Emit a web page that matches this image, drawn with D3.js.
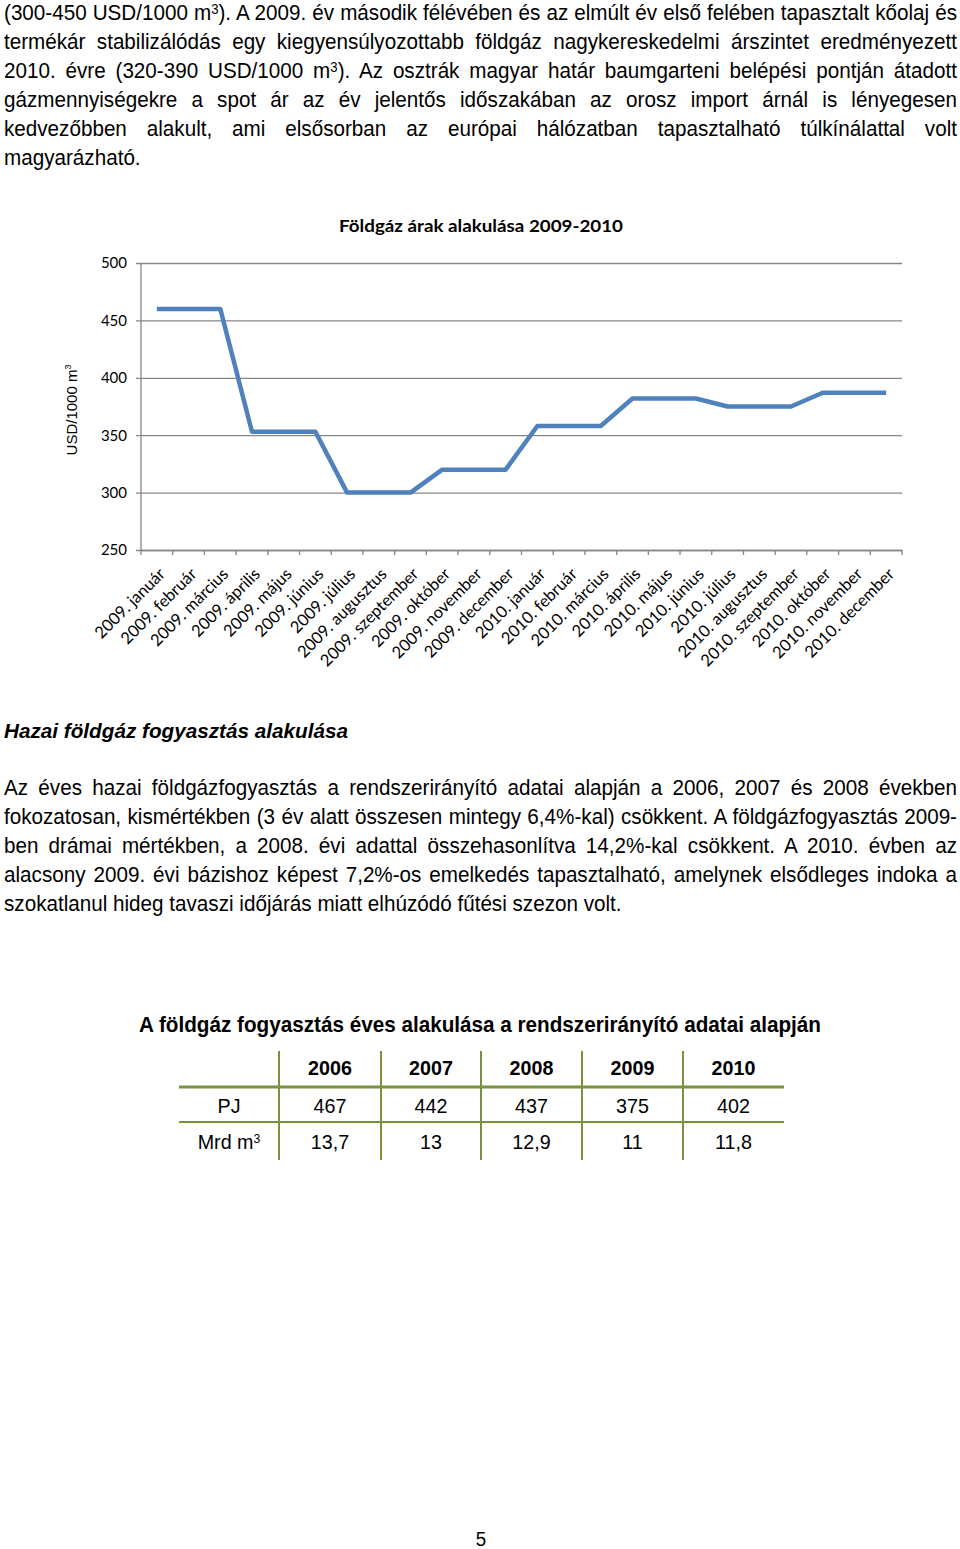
<!DOCTYPE html>
<html>
<head>
<meta charset="utf-8">
<script src="https://d3js.org/d3.v7.min.js"></script>
<style>
  body { margin: 0; background: #fff; }
  svg { display: block; }
</style>
</head>
<body>
<div id="page"></div>
<script>
// chart data: monthly gas price, USD/1000 m3
var months = ["2009. január", "2009. február", "2009. március", "2009. április", "2009. május", "2009. június",
  "2009. július", "2009. augusztus", "2009. szeptember", "2009. október", "2009. november", "2009. december",
  "2010. január", "2010. február", "2010. március", "2010. április", "2010. május", "2010. június",
  "2010. július", "2010. augusztus", "2010. szeptember", "2010. október", "2010. november", "2010. december"];
var prices = [460, 460, 460, 353, 353, 353, 300, 300, 300, 320, 320, 320,
  358, 358, 358, 382, 382, 382, 375, 375, 375, 387, 387, 387];
var yTicks = [250, 300, 350, 400, 450, 500];

// table data
var years = ["2006", "2007", "2008", "2009", "2010"];
var pj = ["467", "442", "437", "375", "402"];
var mrd = ["13,7", "13", "12,9", "11", "11,8"];

// text of the page, {3} = superscript
var para1 = [
  "(300-450 USD/1000 m{3}). A 2009. év második félévében és az elmúlt év első felében tapasztalt kőolaj és",
  "termékár stabilizálódás egy kiegyensúlyozottabb földgáz nagykereskedelmi árszintet eredményezett",
  "2010. évre (320-390 USD/1000 m{3}). Az osztrák magyar határ baumgarteni belépési pontján átadott",
  "gázmennyiségekre a spot ár az év jelentős időszakában az orosz import árnál is lényegesen",
  "kedvezőbben alakult, ami elsősorban az európai hálózatban tapasztalható túlkínálattal volt",
  "magyarázható."
];
var para2 = [
  "Az éves hazai földgázfogyasztás a rendszerirányító adatai alapján a 2006, 2007 és 2008 években",
  "fokozatosan, kismértékben (3 év alatt összesen mintegy 6,4%-kal) csökkent. A földgázfogyasztás 2009-",
  "ben drámai mértékben, a 2008. évi adattal összehasonlítva 14,2%-kal csökkent. A 2010. évben az",
  "alacsony 2009. évi bázishoz képest 7,2%-os emelkedés tapasztalható, amelynek elsődleges indoka a",
  "szokatlanul hideg tavaszi időjárás miatt elhúzódó fűtési szezon volt."
];

var narrow = "'Liberation Sans Narrow', 'Arial Narrow', 'Liberation Sans', Arial, sans-serif";
var calibri = "Lato, 'Open Sans', sans-serif";
var green = "#77933c";
var gray = "#868686";

var svg = d3.select("#page").append("svg")
  .attr("width", 960)
  .attr("height", 1549);

svg.append("rect").attr("width", 960).attr("height", 1549).attr("fill", "#fff");

// put a line of text, with superscripts
function addLine(g, str, size, weight, style) {
  var t = g.append("text")
    .style("font-family", narrow)
    .style("font-size", size + "px")
    .style("font-weight", weight || "normal")
    .style("font-style", style || "normal")
    .attr("fill", "#000");
  str.split(/(\{[^}]*\})/).forEach(function (part) {
    if (part === "") return;
    if (part[0] === "{") {
      t.append("tspan").attr("baseline-shift", size * 0.3)
        .style("font-size", Math.round(size * 0.62) + "px").text(part.slice(1, -1));
    } else {
      t.append("tspan").text(part);
    }
  });
  return t;
}

// horizontal scale for the narrow font
var probe = addLine(svg, para2[4], 22);
var k = 618 / probe.node().getComputedTextLength();
probe.remove();

function paragraph(lines, top, step) {
  lines.forEach(function (s, i) {
    var g = svg.append("g").attr("transform", "translate(4," + (top + i * step) + ") scale(" + k + ",1)");
    var t = addLine(g, s, 22);
    if (i < lines.length - 1) {
      var w = t.node().getComputedTextLength();
      var gaps = s.split(" ").length - 1;
      t.attr("word-spacing", (953 / k - w) / gaps);
    }
  });
}

paragraph(para1, 20, 29);

var h = addLine(svg.append("g").attr("transform", "translate(4,738)"), "Hazai földgáz fogyasztás alakulása", 21, "bold", "italic");
h.attr("textLength", 344).attr("lengthAdjust", "spacingAndGlyphs");

paragraph(para2, 795, 29);

// ---------- line chart ----------
var x = d3.scaleBand().domain(months).range([141, 902]);
var y = d3.scaleLinear().domain([250, 500]).range([550, 263]);

svg.append("text")
  .attr("x", 481).attr("y", 232)
  .attr("text-anchor", "middle")
  .attr("textLength", 284).attr("lengthAdjust", "spacingAndGlyphs")
  .style("font-family", calibri).style("font-weight", "bold").style("font-size", "17px")
  .text("Földgáz árak alakulása  2009-2010");

var grid = svg.append("g")
  .attr("transform", "translate(141,0)")
  .call(d3.axisLeft(y).tickValues(yTicks).tickSize(-761).tickSizeOuter(0).tickPadding(14));
grid.select(".domain").remove();
grid.selectAll(".tick line").attr("stroke", gray).attr("stroke-width", 1.3).attr("x1", -5);
grid.selectAll(".tick text")
  .style("font-family", calibri).style("font-size", "15px").attr("fill", "#000");

svg.append("line")
  .attr("x1", 141).attr("x2", 141).attr("y1", 263).attr("y2", 550)
  .attr("stroke", gray).attr("stroke-width", 1.3);

var xa = svg.append("g")
  .attr("transform", "translate(0,550)")
  .call(d3.axisBottom(x).tickSize(0).tickPadding(0));
xa.select(".domain").attr("stroke", gray).attr("stroke-width", 1.3);
xa.selectAll(".tick text")
  .attr("text-anchor", "end")
  .attr("transform", "translate(5,21) rotate(-45)")
  .attr("dy", "0.35em")
  .style("font-family", calibri).style("font-size", "16.5px").attr("fill", "#000");

// tick marks between categories
var bounds = months.map(function (m) { return x(m); }).concat([902]);
svg.append("g").selectAll("line").data(bounds).join("line")
  .attr("x1", function (d) { return d; }).attr("x2", function (d) { return d; })
  .attr("y1", 550).attr("y2", 555)
  .attr("stroke", gray).attr("stroke-width", 1.3);

var yl = svg.append("text")
  .attr("transform", "translate(77,410) rotate(-90)")
  .attr("text-anchor", "middle")
  .style("font-family", "'Liberation Sans', Arial, sans-serif").style("font-size", "15px");
yl.append("tspan").text("USD/1000 m");
yl.append("tspan").attr("baseline-shift", 6).style("font-size", "9px").text("3");

var line = d3.line()
  .x(function (d, i) { return x(months[i]) + x.bandwidth() / 2; })
  .y(function (d) { return y(d); });

svg.append("path")
  .datum(prices)
  .attr("d", line)
  .attr("fill", "none")
  .attr("stroke", "#4f81bd")
  .attr("stroke-width", 4.5)
  .attr("stroke-linejoin", "round");

// ---------- table ----------
var tt = addLine(svg.append("g").attr("transform", "translate(139,1032)"),
  "A földgáz fogyasztás éves alakulása a rendszerirányító adatai alapján", 22, "bold");
tt.attr("textLength", 682).attr("lengthAdjust", "spacingAndGlyphs");

var colEdges = [179, 279, 381, 481, 582, 683, 784];
var rowBase = [1075, 1113, 1149];

svg.append("g").selectAll("line").data(colEdges.slice(1, 6)).join("line")
  .attr("x1", function (d) { return d; }).attr("x2", function (d) { return d; })
  .attr("y1", 1051).attr("y2", 1160)
  .attr("stroke", green).attr("stroke-width", 2);

svg.append("line").attr("x1", 179).attr("x2", 784).attr("y1", 1087).attr("y2", 1087)
  .attr("stroke", green).attr("stroke-width", 3.2);
svg.append("line").attr("x1", 179).attr("x2", 784).attr("y1", 1122).attr("y2", 1122)
  .attr("stroke", green).attr("stroke-width", 2);

function cell(str, col, row, weight) {
  var cx = (colEdges[col] + colEdges[col + 1]) / 2;
  var g = svg.append("g").attr("transform", "translate(" + cx + "," + rowBase[row] + ") scale(" + k + ",1)");
  addLine(g, str, 21, weight).attr("text-anchor", "middle");
}

years.forEach(function (d, i) { cell(d, i + 1, 0, "bold"); });
cell("PJ", 0, 1);
pj.forEach(function (d, i) { cell(d, i + 1, 1); });
cell("Mrd m{3}", 0, 2);
mrd.forEach(function (d, i) { cell(d, i + 1, 2); });

// page number
svg.append("g").attr("transform", "translate(481,1546) scale(" + k + ",1)")
  .call(function (g) { addLine(g, "5", 20).attr("text-anchor", "middle"); });
</script>
</body>
</html>
